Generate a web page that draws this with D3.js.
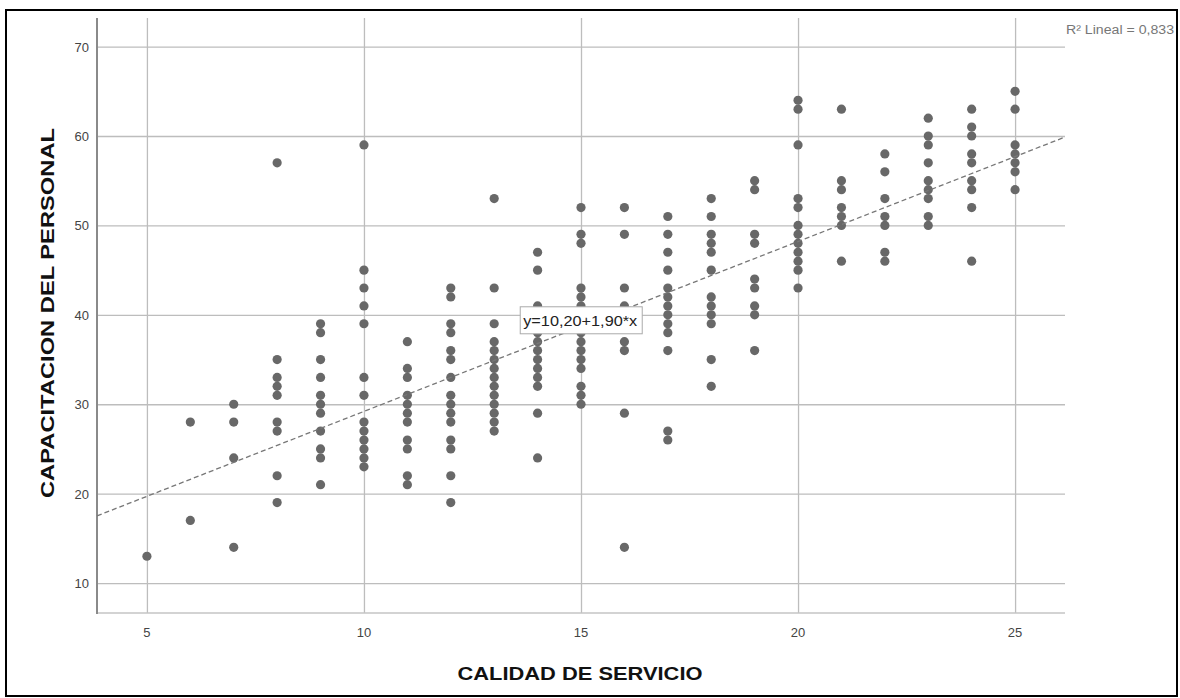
<!DOCTYPE html>
<html>
<head>
<meta charset="utf-8">
<script src="https://cdn.jsdelivr.net/npm/d3@7"></script>
<style>
  body { margin: 0; background: #fff; }
  svg { display: block; font-family: Arial, "Liberation Sans", sans-serif; }
</style>
</head>
<body>
<svg id="chart" width="1180" height="698"></svg>
<script>
// CALIDAD DE SERVICIO (x) -> values of CAPACITACION DEL PERSONAL (y) read per column
var servicio = [5, 6, 7, 8, 9, 10, 11, 12, 13, 14, 15, 16, 17, 18, 19, 20, 21, 22, 23, 24, 25];
var capacitacion = [
    [13],
    [28, 17],
    [30, 28, 24, 14],
    [57, 35, 33, 32, 31, 28, 27, 22, 19],
    [39, 38, 35, 33, 31, 30, 29, 27, 25, 24, 21],
    [59, 45, 43, 41, 39, 33, 31, 28, 27, 26, 25, 24, 23],
    [37, 34, 33, 31, 30, 29, 28, 26, 25, 22, 21],
    [43, 42, 39, 38, 36, 35, 33, 31, 30, 29, 28, 26, 25, 22, 19],
    [53, 43, 39, 37, 36, 35, 34, 33, 32, 31, 30, 29, 28, 27],
    [47, 45, 41, 40, 39, 38, 37, 36, 35, 34, 33, 32, 29, 24],
    [52, 49, 48, 43, 42, 41, 40, 39, 38, 37, 36, 35, 34, 32, 31, 30],
    [52, 49, 43, 41, 37, 36, 29, 14],
    [51, 49, 47, 45, 43, 42, 41, 40, 39, 38, 36, 27, 26],
    [53, 51, 49, 48, 47, 45, 42, 41, 40, 39, 35, 32],
    [55, 54, 49, 48, 44, 43, 41, 40, 36],
    [64, 63, 59, 53, 52, 50, 49, 48, 47, 46, 45, 43],
    [63, 55, 54, 52, 51, 50, 46],
    [58, 56, 53, 51, 50, 47, 46],
    [62, 60, 59, 57, 55, 54, 53, 51, 50],
    [63, 61, 60, 58, 57, 55, 54, 52, 46],
    [65, 63, 59, 58, 57, 56, 54]
];
var xTicks = [5, 10, 15, 20, 25];
var yTicks = [10, 20, 30, 40, 50, 60, 70];

// linear fit shown on the chart
var intercept = 10.20;
var slope = 1.90;
var fitLabel = "y=10,20+1,90*x";
var r2Label = "R\u00B2 Lineal = 0,833";

var xTitle = "CALIDAD DE SERVICIO";
var yTitle = "CAPACITACION DEL PERSONAL";

var svg = d3.select("#chart");

// outer frame of the picture
svg.append("rect")
    .attr("x", 6).attr("y", 10)
    .attr("width", 1171).attr("height", 686)
    .attr("fill", "none")
    .attr("stroke", "#000")
    .attr("stroke-width", 2);

var x = d3.scaleLinear().domain([3.85, 26.15]).range([97, 1065]);
var y = d3.scaleLinear().domain([6.65, 73.2]).range([613, 18]);

var plot = svg.append("g");

// gridlines
plot.append("g")
    .attr("transform", "translate(0,613)")
    .call(d3.axisBottom(x).tickValues(xTicks).tickSize(-595).tickFormat(""))
    .call(function (g) {
        g.select(".domain").remove();
        g.selectAll(".tick line").attr("stroke", "#bdbdbd").attr("stroke-width", 1.3);
    });

plot.append("g")
    .attr("transform", "translate(97,0)")
    .call(d3.axisLeft(y).tickValues(yTicks).tickSize(-968).tickFormat(""))
    .call(function (g) {
        g.select(".domain").remove();
        g.selectAll(".tick line").attr("stroke", "#bdbdbd").attr("stroke-width", 1.3);
    });

// axis lines
plot.append("line")
    .attr("x1", 97).attr("x2", 1065).attr("y1", 613).attr("y2", 613)
    .attr("stroke", "#c4c4c4").attr("stroke-width", 1.5);
plot.append("line")
    .attr("x1", 97).attr("x2", 97).attr("y1", 18).attr("y2", 614)
    .attr("stroke", "#8a8a8a").attr("stroke-width", 2);

// tick labels
svg.append("g").selectAll("text")
    .data(xTicks)
    .enter().append("text")
    .attr("x", function (d) { return x(d); })
    .attr("y", 637)
    .attr("text-anchor", "middle")
    .attr("font-size", 13)
    .attr("fill", "#444")
    .text(function (d) { return d; });

svg.append("g").selectAll("text")
    .data(yTicks)
    .enter().append("text")
    .attr("x", 89)
    .attr("y", function (d) { return y(d) + 5; })
    .attr("text-anchor", "end")
    .attr("font-size", 13)
    .attr("fill", "#444")
    .text(function (d) { return d; });

// points
var points = [];
servicio.forEach(function (s, i) {
    capacitacion[i].forEach(function (c) { points.push([s, c]); });
});

plot.append("g").selectAll("circle")
    .data(points)
    .enter().append("circle")
    .attr("cx", function (d) { return x(d[0]); })
    .attr("cy", function (d) { return y(d[1]); })
    .attr("r", 4.6)
    .attr("fill", "#686868");

// fit line across the plot area
var x0 = x.domain()[0], x1 = x.domain()[1];
plot.append("line")
    .attr("x1", x(x0)).attr("y1", y(intercept + slope * x0))
    .attr("x2", x(x1)).attr("y2", y(intercept + slope * x1))
    .attr("stroke", "#777")
    .attr("stroke-width", 1.3)
    .attr("stroke-dasharray", "5,3");

// fit label box
var lx = x(13.6), ly = y(40.9);
svg.append("rect")
    .attr("x", lx).attr("y", ly)
    .attr("width", 122).attr("height", 27)
    .attr("fill", "#fff")
    .attr("stroke", "#aaa");
svg.append("text")
    .attr("x", lx + 3).attr("y", ly + 19)
    .attr("font-size", 14)
    .attr("fill", "#222")
    .attr("textLength", 114)
    .attr("lengthAdjust", "spacingAndGlyphs")
    .text(fitLabel);

// R2 note
svg.append("text")
    .attr("x", 1066).attr("y", 34)
    .attr("font-size", 12)
    .attr("fill", "#777")
    .attr("textLength", 108)
    .attr("lengthAdjust", "spacingAndGlyphs")
    .text(r2Label);

// axis titles
svg.append("text")
    .attr("x", 580).attr("y", 680)
    .attr("text-anchor", "middle")
    .attr("font-size", 19)
    .attr("font-weight", "bold")
    .attr("fill", "#111")
    .attr("textLength", 245)
    .attr("lengthAdjust", "spacingAndGlyphs")
    .text(xTitle);

svg.append("text")
    .attr("transform", "translate(54,313) rotate(-90)")
    .attr("text-anchor", "middle")
    .attr("font-size", 18)
    .attr("font-weight", "bold")
    .attr("fill", "#111")
    .attr("textLength", 370)
    .attr("lengthAdjust", "spacingAndGlyphs")
    .text(yTitle);
</script>
</body>
</html>
